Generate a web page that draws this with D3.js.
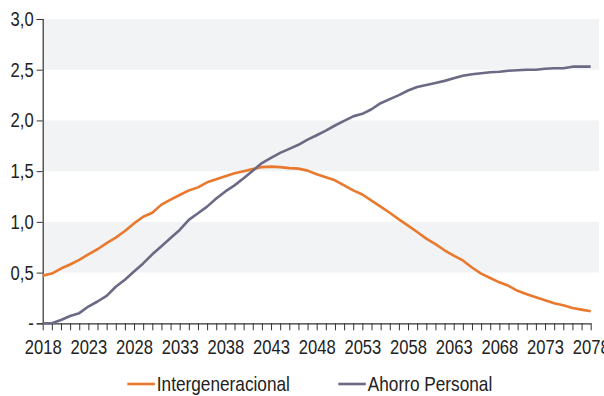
<!DOCTYPE html>
<html>
<head>
<meta charset="utf-8">
<script src="https://cdn.jsdelivr.net/npm/d3@7/dist/d3.min.js"></script>
<style>
  html, body { margin: 0; padding: 0; background: #fff; }
  svg { display: block; }
  text { font-family: "Liberation Sans", Arial, sans-serif; fill: #222; }
</style>
</head>
<body>
<svg id="chart" width="604" height="396"></svg>
<script>
const years = d3.range(2018, 2079);
const intergeneracional = [
  0.47, 0.49, 0.54, 0.58, 0.625, 0.68, 0.73, 0.79, 0.845, 0.91,
  0.985, 1.05, 1.09, 1.17, 1.22, 1.265, 1.31, 1.34, 1.39, 1.42,
  1.45, 1.48, 1.50, 1.52, 1.54, 1.545, 1.54, 1.53, 1.525, 1.505,
  1.47, 1.44, 1.41, 1.36, 1.31, 1.27, 1.21, 1.15, 1.09, 1.025,
  0.963, 0.90, 0.835, 0.78, 0.72, 0.667, 0.62, 0.55, 0.49, 0.447,
  0.404, 0.37, 0.32, 0.286, 0.256, 0.227, 0.197, 0.178, 0.151, 0.135,
  0.118
];
const ahorroPersonal = [
  0.0, 0.0, 0.033, 0.072, 0.10, 0.165, 0.215, 0.27, 0.36, 0.43,
  0.51, 0.59, 0.68, 0.76, 0.84, 0.92, 1.02, 1.085, 1.15, 1.23,
  1.30, 1.36, 1.43, 1.505, 1.58, 1.63, 1.68, 1.72, 1.76, 1.81,
  1.854, 1.90, 1.95, 1.995, 2.04, 2.065, 2.11, 2.17, 2.21, 2.25,
  2.295, 2.33, 2.35, 2.37, 2.39, 2.415, 2.44, 2.455, 2.465, 2.475,
  2.48, 2.49, 2.495, 2.50, 2.50, 2.51, 2.515, 2.515, 2.53, 2.53,
  2.53
];
const yTicks = [0, 0.5, 1.0, 1.5, 2.0, 2.5, 3.0];
const xTickLabels = d3.range(2018, 2079, 5);
const seriesNames = ["Intergeneracional", "Ahorro Personal"];
const colors = ["#E8792F", "#6B6A85"];

const svg = d3.select("#chart");
const x = d3.scaleLinear().domain([2018, 2078]).range([42.7, 590.7]);
const y = d3.scaleLinear().domain([0, 3]).range([323.3, 19]);
const plotRight = 599;

// condense text horizontally (narrow typeface look)
function condense(sel, factor) {
  sel.each(function () {
    const w = this.getComputedTextLength();
    if (w > 0) {
      d3.select(this).attr("textLength", w * factor).attr("lengthAdjust", "spacingAndGlyphs");
    }
  });
}

// alternating bands
const bands = [[2.5, 3.0], [1.5, 2.0], [0.5, 1.0]];
svg.append("g").selectAll("rect").data(bands).join("rect")
  .attr("x", x(2018)).attr("width", plotRight - x(2018))
  .attr("y", d => y(d[1])).attr("height", d => y(d[0]) - y(d[1]))
  .attr("fill", "#F2F3F5");

// y axis
const yAxis = d3.axisLeft(y).tickValues(yTicks).tickSize(6).tickPadding(3)
  .tickFormat(d => d === 0 ? "-" : d3.format(".1f")(d).replace(".", ","));
const gy = svg.append("g").attr("transform", `translate(${x(2018)},0)`).call(yAxis);
gy.select(".domain").attr("stroke", "#333").attr("stroke-width", 1.2);
gy.selectAll(".tick line").attr("stroke", "#333");
gy.selectAll(".tick text").style("font-size", "20.5px").style("font-family", "'Liberation Sans', Arial, sans-serif").attr("fill", "#222");
condense(gy.selectAll(".tick text"), 0.81);

// x axis
const xAxis = d3.axisBottom(x).tickValues(years).tickSize(7).tickSizeOuter(0)
  .tickFormat(d => xTickLabels.includes(d) ? String(d) : "");
const gx = svg.append("g").attr("transform", `translate(0,${y(0)})`).call(xAxis);
gx.select(".domain").attr("stroke", "#333").attr("stroke-width", 1.2);
gx.selectAll(".tick line").attr("stroke", "#333");
gx.selectAll(".tick text").style("font-size", "20.5px").style("font-family", "'Liberation Sans', Arial, sans-serif").attr("fill", "#222").attr("dy", "1.0em");
condense(gx.selectAll(".tick text"), 0.81);

// lines
const line = d3.line().x((d, i) => x(years[i])).y(d => y(d));
[intergeneracional, ahorroPersonal].forEach((s, k) => {
  svg.append("path").datum(s).attr("d", line)
    .attr("fill", "none").attr("stroke", colors[k]).attr("stroke-width", 2.6)
    .attr("stroke-linejoin", "round");
});

// legend
const legendPos = [127.3, 338.3];
seriesNames.forEach((name, k) => {
  const g = svg.append("g").attr("transform", `translate(${legendPos[k]},384)`);
  g.append("line").attr("x1", 0).attr("x2", 27.5).attr("y1", 0).attr("y2", 0)
    .attr("stroke", colors[k]).attr("stroke-width", 2.6);
  const t = g.append("text").attr("x", 29.5).attr("y", 6.8).style("font-size", "21px").text(name);
  condense(t, 0.82);
});
</script>
</body>
</html>
